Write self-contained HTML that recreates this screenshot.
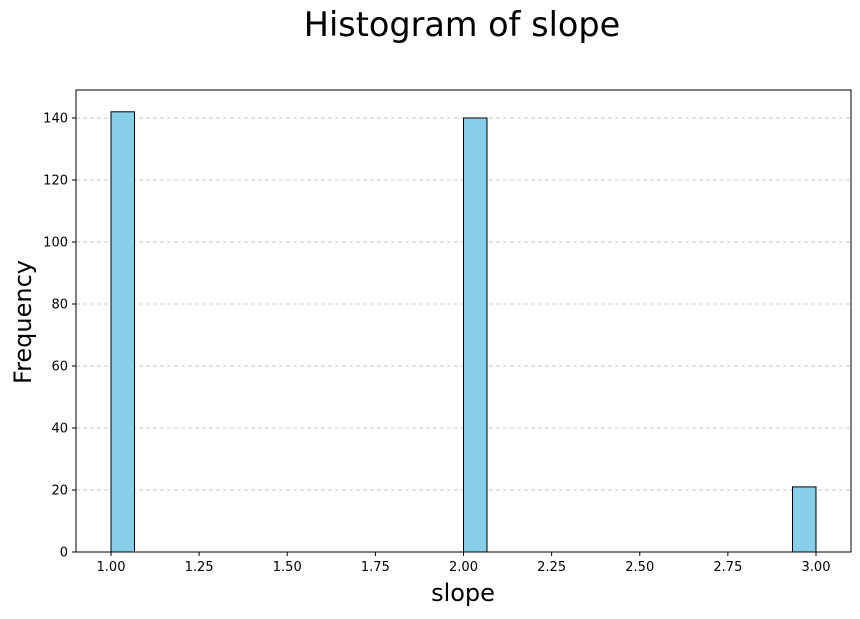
<!DOCTYPE html>
<html><head><meta charset="utf-8"><style>
body{margin:0;background:#fff;font-family:"DejaVu Sans",sans-serif}
</style></head><body>
<svg width="860" height="615" xmlns="http://www.w3.org/2000/svg" font-family="DejaVu Sans, sans-serif">
<text x="462" y="36" font-size="33.5" text-anchor="middle">Histogram of slope</text>
<g id="grid"></g>
<g id="bars"></g>
<rect x="76" y="90" width="775" height="462" fill="none" stroke="#000" stroke-width="1"/>
<g id="xticks"></g>
<g id="yticks"></g>
<text x="463" y="601" font-size="24" text-anchor="middle">slope</text>
<text transform="translate(31,322) rotate(-90)" font-size="24" text-anchor="middle">Frequency</text>
</svg>
<script>
const binStarts=[1.0,2.0,2.9333];
const counts=[142,140,21];
const binWidth=2/30;
const xTicks=[1.00,1.25,1.50,1.75,2.00,2.25,2.50,2.75,3.00];
const yTicks=[0,20,40,60,80,100,120,140];
const NS="http://www.w3.org/2000/svg";
const X=v=>111+(v-1)*352.5;
const Y=v=>552-v*3.1;
function mk(t,a,p){const e=document.createElementNS(NS,t);for(const k in a)e.setAttribute(k,a[k]);p.appendChild(e);return e;}
const grid=document.getElementById('grid'),bars=document.getElementById('bars'),xt=document.getElementById('xticks'),yt=document.getElementById('yticks');
yTicks.forEach(v=>{
 if(v>0){const g=mk('line',{x1:76,x2:851,y1:Y(v),y2:Y(v),stroke:'#c8c8c8','stroke-dasharray':'4,3','stroke-width':1},grid);
 
 }
 const l=mk('line',{x1:72,x2:76,y1:Y(v),y2:Y(v),stroke:'#000'},yt);
 
 
 const t=mk('text',{x:68,y:Y(v)+4.5,'font-size':13,'text-anchor':'end'},yt);t.textContent=v;
 
 
});
xTicks.forEach(v=>{
 const l=mk('line',{x1:X(v),x2:X(v),y1:552,y2:556,stroke:'#000'},xt);
 
 
 const t=mk('text',{x:X(v),y:571,'font-size':13,'text-anchor':'middle'},xt);t.textContent=v.toFixed(2);
 
 
});
binStarts.forEach((b,i)=>{
 const x0=X(b),x1=X(b+binWidth);
 const r=mk('rect',{x:x0,y:Y(counts[i]),width:x1-x0,height:552-Y(counts[i]),fill:'#87ceeb',stroke:'#000','stroke-width':1},bars);
 
 
});
</script>
</body></html>
